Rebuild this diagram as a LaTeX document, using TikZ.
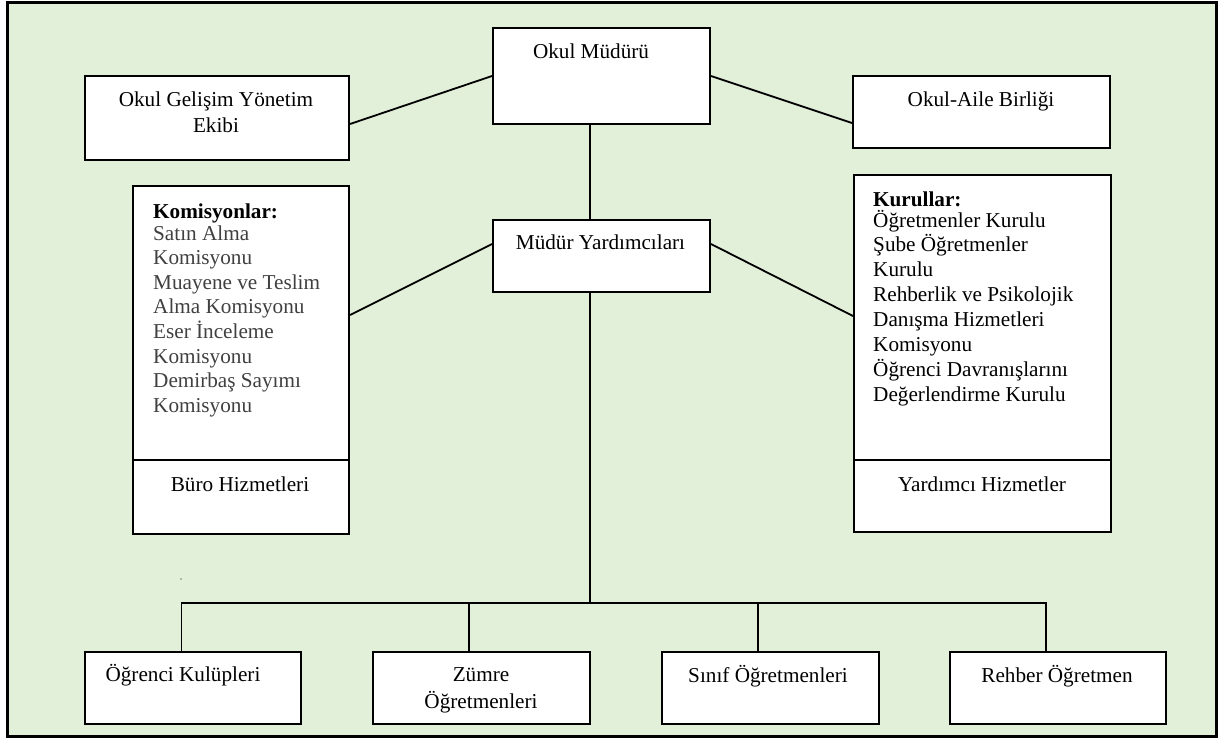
\documentclass[tikz,border=0pt]{standalone}
\usepackage{fontspec}
\setmainfont{Liberation Serif}
\definecolor{bg}{HTML}{E2EFD9}
\definecolor{listgray}{HTML}{404040}
\begin{document}
\begin{tikzpicture}[x=1pt,y=-1pt,
  box/.style={draw=black, fill=white, line width=2pt, rectangle, inner sep=0pt, anchor=north west},
  link/.style={line width=1.8pt, draw=black},
  lbl/.style={font=\fontsize{21.2}{24.6}\selectfont, inner sep=0pt, anchor=base, text=black},
  lst/.style={font=\fontsize{21.2}{24.6}\selectfont, inner sep=0pt, anchor=base west, text=listgray},
  ]
\useasboundingbox (0,0) rectangle (1220,740);
\draw[line width=3pt, fill=bg] (7.5,2.5) rectangle (1216.5,736);

% boxes
\node[box, minimum width=217pt, minimum height=96pt] (om) at (492,27) {};
\node[box, minimum width=264pt, minimum height=84pt] (ogye) at (84,75) {};
\node[box, minimum width=257pt, minimum height=72pt] (oab) at (852,75) {};
\node[box, minimum width=217pt, minimum height=72pt] (my) at (492,219) {};
\node[box, minimum width=216pt, minimum height=274pt] (kom) at (132,185) {};
\node[box, minimum width=216pt, minimum height=74pt] (buro) at (132,459) {};
\node[box, minimum width=257pt, minimum height=285pt] (kur) at (853,174) {};
\node[box, minimum width=257pt, minimum height=72pt] (yh) at (853,459) {};
\node[box, minimum width=216pt, minimum height=72pt] (ok) at (84,651) {};
\node[box, minimum width=217pt, minimum height=72pt] (zo) at (372,651) {};
\node[box, minimum width=217pt, minimum height=72pt] (so) at (661,651) {};
\node[box, minimum width=216pt, minimum height=72pt] (ro) at (949,651) {};

% labels
\node[lbl] (omt) at (591,58) {Okul Müdürü};
\node[lbl] (ogyet) at (216,106) {\parbox[t]{260pt}{\fontsize{21.2}{26}\selectfont\centering Okul Gelişim Yönetim\\Ekibi}};
\node[lbl] (oabt) at (981,106) {Okul-Aile Birliği};
\node[lbl] (myt) at (600.5,249) {Müdür Yardımcıları};
\node[lbl] (burot) at (240,491) {Büro Hizmetleri};
\node[lbl] (yht) at (982,491) {Yardımcı Hizmetler};
\node[lbl] (okt) at (183,681) {Öğrenci Kulüpleri};
\node[lbl] (zot) at (481,681) {\parbox[t]{210pt}{\fontsize{21.2}{27}\selectfont\centering Zümre\\Öğretmenleri}};
\node[lbl] (sot) at (768,682) {Sınıf Öğretmenleri};
\node[lbl] (rot) at (1057,682) {Rehber Öğretmen};

\node[lst, text=black] (komh) at (153,218) {\textbf{Komisyonlar:}};
\node[lst] (koml) at (153,240) {\parbox[t]{190pt}{\raggedright Satın Alma\\Komisyonu\\Muayene ve Teslim\\Alma Komisyonu\\Eser İnceleme\\Komisyonu\\Demirbaş Sayımı\\Komisyonu}};
\node[lst, text=black] (kurh) at (873,206) {\textbf{Kurullar:}};
\node[lst, text=black] (kurl) at (873,227) {\parbox[t]{230pt}{\fontsize{21.2}{24.9}\selectfont\raggedright Öğretmenler Kurulu\\Şube Öğretmenler\\Kurulu\\Rehberlik ve Psikolojik\\Danışma Hizmetleri\\Komisyonu\\Öğrenci Davranışlarını\\Değerlendirme Kurulu}};

% connectors
\draw[link] (om.west) -- ([yshift=-6pt]ogye.east);
\draw[link] (om.east) -- ([yshift=-11pt]oab.west);
\draw[link] ([xshift=-11.5pt]om.south) -- ([xshift=-11.5pt]my.north);
\draw[link] ([yshift=12pt]my.west) -- ([yshift=8pt]kom.east);
\draw[link] ([yshift=12pt]my.east) -- ([yshift=1.5pt]kur.west);

\coordinate (bus) at (0,603);
\coordinate (myb) at ([xshift=-11.5pt]my.south);
\coordinate (okc) at ([xshift=-11.5pt]ok.north);
\coordinate (zoc) at ([xshift=-12.5pt]zo.north);
\coordinate (soc) at ([xshift=-12.5pt]so.north);
\coordinate (roc) at ([xshift=-12pt]ro.north);
\draw[link] (myb) -- (myb |- bus);
\draw[link] (okc) -- (okc |- bus) -- (roc |- bus) -- (roc);
\draw[link] (zoc) -- (zoc |- bus);
\draw[link] (soc) -- (soc |- bus);

\fill[gray] (181,579) circle (0.8);
\end{tikzpicture}
\end{document}
